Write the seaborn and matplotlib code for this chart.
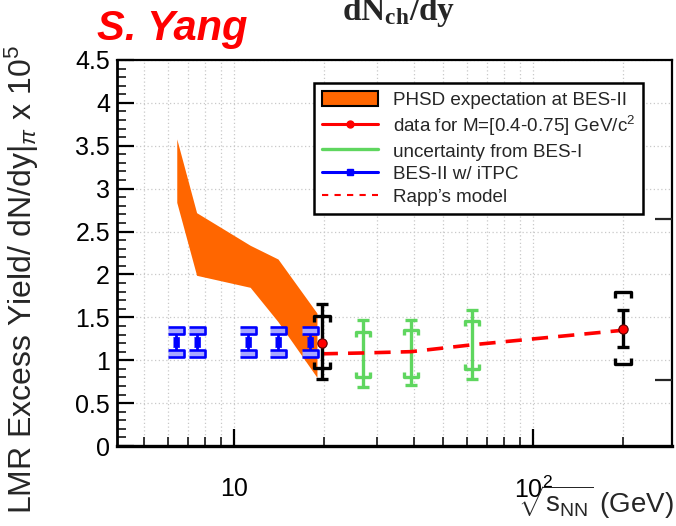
import numpy as np
import pandas as pd
import matplotlib
matplotlib.use("Agg")
import matplotlib.pyplot as plt
import seaborn as sns
from matplotlib.path import Path
from matplotlib.lines import Line2D
from matplotlib.patches import Patch
from matplotlib.ticker import LogLocator, MultipleLocator, FuncFormatter, NullFormatter

# ---------------- data ----------------
phsd_energy = [6.42, 7.48, 11.3, 14.0, 18.9]
phsd_upper = [3.58, 2.72, 2.34, 2.18, 1.55]
phsd_lower = [2.84, 1.99, 1.85, 1.45, 0.80]

data_energy = [19.6, 200.0]
data_yield = [1.20, 1.37]
data_stat_hi = [1.65, 1.59]
data_stat_lo = [0.78, 1.155]
data_sys_hi = [1.51, 1.795]
data_sys_lo = [0.915, 0.96]

besI_energy = [27.0, 39.0, 62.4]
besI_center = [1.08, 1.09, 1.185]
besI_stat_hi = [1.47, 1.47, 1.59]
besI_stat_lo = [0.69, 0.71, 0.78]
besI_sys_hi = [1.33, 1.35, 1.46]
besI_sys_lo = [0.81, 0.81, 0.90]

besII_energy = [6.38, 7.48, 11.1, 14.0, 17.9]
besII_yield = [1.21, 1.21, 1.21, 1.21, 1.21]
besII_hi = [1.35, 1.35, 1.35, 1.35, 1.35]
besII_lo = [1.085, 1.085, 1.085, 1.085, 1.085]

rapp_energy = [19.6, 27.0, 39.0, 62.4, 200.0]
rapp_yield = [1.075, 1.085, 1.10, 1.18, 1.35]

x_tick_vals = [10, 100]
x_tick_labels = ["10", r"$10^{2}$"]

ORANGE = "#ff6600"
GREEN = "#5fd65f"
BLUE = "#0000ff"
LAVENDER = "#a8a8ff"
RED = "#ff0000"

# ---------------- style ----------------
sns.set_style("ticks")
plt.rcParams["font.family"] = ["Liberation Sans", "DejaVu Sans"]
plt.rcParams["mathtext.fontset"] = "custom"
plt.rcParams["mathtext.rm"] = "Liberation Sans"
plt.rcParams["mathtext.it"] = "Liberation Sans:italic"
plt.rcParams["mathtext.bf"] = "Liberation Serif:bold"

fig = plt.figure(figsize=(6.76, 5.26), dpi=100)
ax = fig.add_axes([0.173, 0.152, 0.821, 0.734])
ax.set_xscale("log")

# marker shapes
top_bracket = Path([(-1, -0.75), (-1, 0), (1, 0), (1, -0.75)],
                   [Path.MOVETO, Path.LINETO, Path.LINETO, Path.LINETO])
bot_bracket = Path([(-1, 0.75), (-1, 0), (1, 0), (1, 0.75)],
                   [Path.MOVETO, Path.LINETO, Path.LINETO, Path.LINETO])
flat_rect = [(-1, -0.42), (1, -0.42), (1, 0.42), (-1, 0.42)]
tall_rect = [(-0.65, -1), (0.65, -1), (0.65, 1), (-0.65, 1)]

# PHSD band
ax.fill_between(phsd_energy, phsd_lower, phsd_upper, color=ORANGE, lw=0, zorder=2)

# BES-II with iTPC (blue)
b_y = np.array(besII_yield)
ax.errorbar(besII_energy, b_y, yerr=[b_y - np.array(besII_lo), np.array(besII_hi) - b_y],
            fmt="none", ecolor=BLUE, elinewidth=2.0, capsize=0, zorder=3)
for ys in (besII_hi, besII_lo):
    ax.plot(besII_energy, ys, ls="none", marker=flat_rect, markersize=12,
            markerfacecolor=LAVENDER, markeredgecolor=BLUE, markeredgewidth=1.9, zorder=4)
sns.scatterplot(x=besII_energy, y=besII_yield, ax=ax, marker=tall_rect, s=45,
                color=BLUE, edgecolor=BLUE, linewidth=0.5, zorder=4, legend=False)

# uncertainty from BES-I (green)
g_c = np.array(besI_center)
ax.errorbar(besI_energy, g_c, yerr=[g_c - np.array(besI_stat_lo), np.array(besI_stat_hi) - g_c],
            fmt="none", ecolor=GREEN, elinewidth=2.4, capsize=4.5, capthick=2.4, zorder=3)
ax.plot(besI_energy, besI_sys_hi, ls="none", marker=top_bracket, markersize=10,
        markerfacecolor="none", markeredgecolor=GREEN, markeredgewidth=2.4, zorder=3)
ax.plot(besI_energy, besI_sys_lo, ls="none", marker=bot_bracket, markersize=10,
        markerfacecolor="none", markeredgecolor=GREEN, markeredgewidth=2.4, zorder=3)

# Rapp's model
sns.lineplot(x=rapp_energy, y=rapp_yield, ax=ax, color=RED, lw=2.6,
             linestyle=(0, (4.5, 2.8)), zorder=4, sort=False)

# data points (black errors, red dots)
d_y = np.array(data_yield)
ax.errorbar(data_energy, d_y, yerr=[d_y - np.array(data_stat_lo), np.array(data_stat_hi) - d_y],
            fmt="none", ecolor="black", elinewidth=2.4, capsize=4.5, capthick=2.4, zorder=5)
ax.plot(data_energy, data_sys_hi, ls="none", marker=top_bracket, markersize=12,
        markerfacecolor="none", markeredgecolor="black", markeredgewidth=2.4, zorder=5)
ax.plot(data_energy, data_sys_lo, ls="none", marker=bot_bracket, markersize=12,
        markerfacecolor="none", markeredgecolor="black", markeredgewidth=2.4, zorder=5)
sns.scatterplot(x=data_energy, y=data_yield, ax=ax, marker="o", s=45, color=RED,
                edgecolor="#550000", linewidth=0.8, zorder=6, legend=False)

# ---------------- axes ----------------
ax.set_xlim(4.05, 291)
ax.set_ylim(0, 4.5)
ax.set_xticks(x_tick_vals, labels=x_tick_labels)
ax.xaxis.set_minor_locator(LogLocator(base=10, subs=np.arange(2, 10)))
ax.xaxis.set_minor_formatter(NullFormatter())
ax.yaxis.set_major_locator(MultipleLocator(0.5))
ax.yaxis.set_minor_locator(MultipleLocator(0.1))
ax.yaxis.set_major_formatter(FuncFormatter(lambda v, p: "%g" % v))

ax.tick_params(axis="both", which="major", direction="in", length=12.5, width=1.6,
               labelsize=18, colors="black")
ax.tick_params(axis="both", which="minor", direction="in", length=6.5, width=1.3)
ax.tick_params(axis="x", which="major", pad=22, labelsize=18)
ax.tick_params(axis="y", which="major", pad=5)

ax.grid(True, which="major", axis="y", color="#c9c9c9", ls=(0, (1, 2)), lw=0.9, zorder=0)
ax.grid(True, which="both", axis="x", color="#c9c9c9", ls=(0, (1, 2)), lw=0.9, zorder=0)
ax.set_axisbelow(True)

for side, lw in (("left", 2.0), ("bottom", 2.4), ("top", 1.6), ("right", 1.6)):
    ax.spines[side].set_linewidth(lw)
    ax.spines[side].set_color("black")

# extra inward ticks on the right edge
tw = ax.twinx()
tw.set_ylim(0, 4.5)
tw.set_yticks([2.65, 0.77])
tw.tick_params(axis="y", direction="in", length=12.5, width=1.6, labelright=False)
for s in tw.spines.values():
    s.set_visible(False)

# ---------------- legend ----------------
handles = [
    Patch(facecolor=ORANGE, edgecolor="black", linewidth=1.5),
    Line2D([], [], color=RED, lw=2.2, marker="o", markersize=5),
    Line2D([], [], color=GREEN, lw=2.4),
    Line2D([], [], color=BLUE, lw=2.2, marker="s", markersize=5),
    Line2D([], [], color=RED, lw=1.5, linestyle=(0, (3, 3))),
]
labels = [
    "PHSD expectation at BES-II",
    r"data for M=[0.4-0.75] GeV/c$^{2}$",
    "uncertainty from BES-I",
    "BES-II w/ iTPC",
    "Rapp\u2019s model",
]
leg = ax.legend(handles, labels, loc="upper left", bbox_to_anchor=(0.355, 0.94),
                frameon=True, fancybox=False, edgecolor="black", framealpha=1,
                fontsize=13.6, handlelength=3.0, handleheight=0.9, handletextpad=0.8,
                labelspacing=0.24, borderpad=0.4, borderaxespad=0)
leg.get_frame().set_linewidth(1.8)
leg.set_zorder(10)

# ---------------- texts ----------------
fig.text(0.033, 0.468, r"LMR Excess Yield/ dN/dy$|_{\pi}$ x 10$^{5}$", rotation=90,
         ha="center", va="center", fontsize=23)
fig.text(0.996, 0.024, r"$\sqrt{\mathrm{s_{NN}}}$ (GeV)", ha="right", va="baseline", fontsize=20)
fig.text(0.59, 0.962, r"$\mathbf{dN_{ch}/dy}$", ha="center", va="baseline", fontsize=24)
fig.text(0.143, 0.924, "S. Yang", color=RED, fontsize=30, fontweight="bold",
         fontstyle="italic", ha="left", va="baseline")

fig.savefig("out.png", dpi=100)
